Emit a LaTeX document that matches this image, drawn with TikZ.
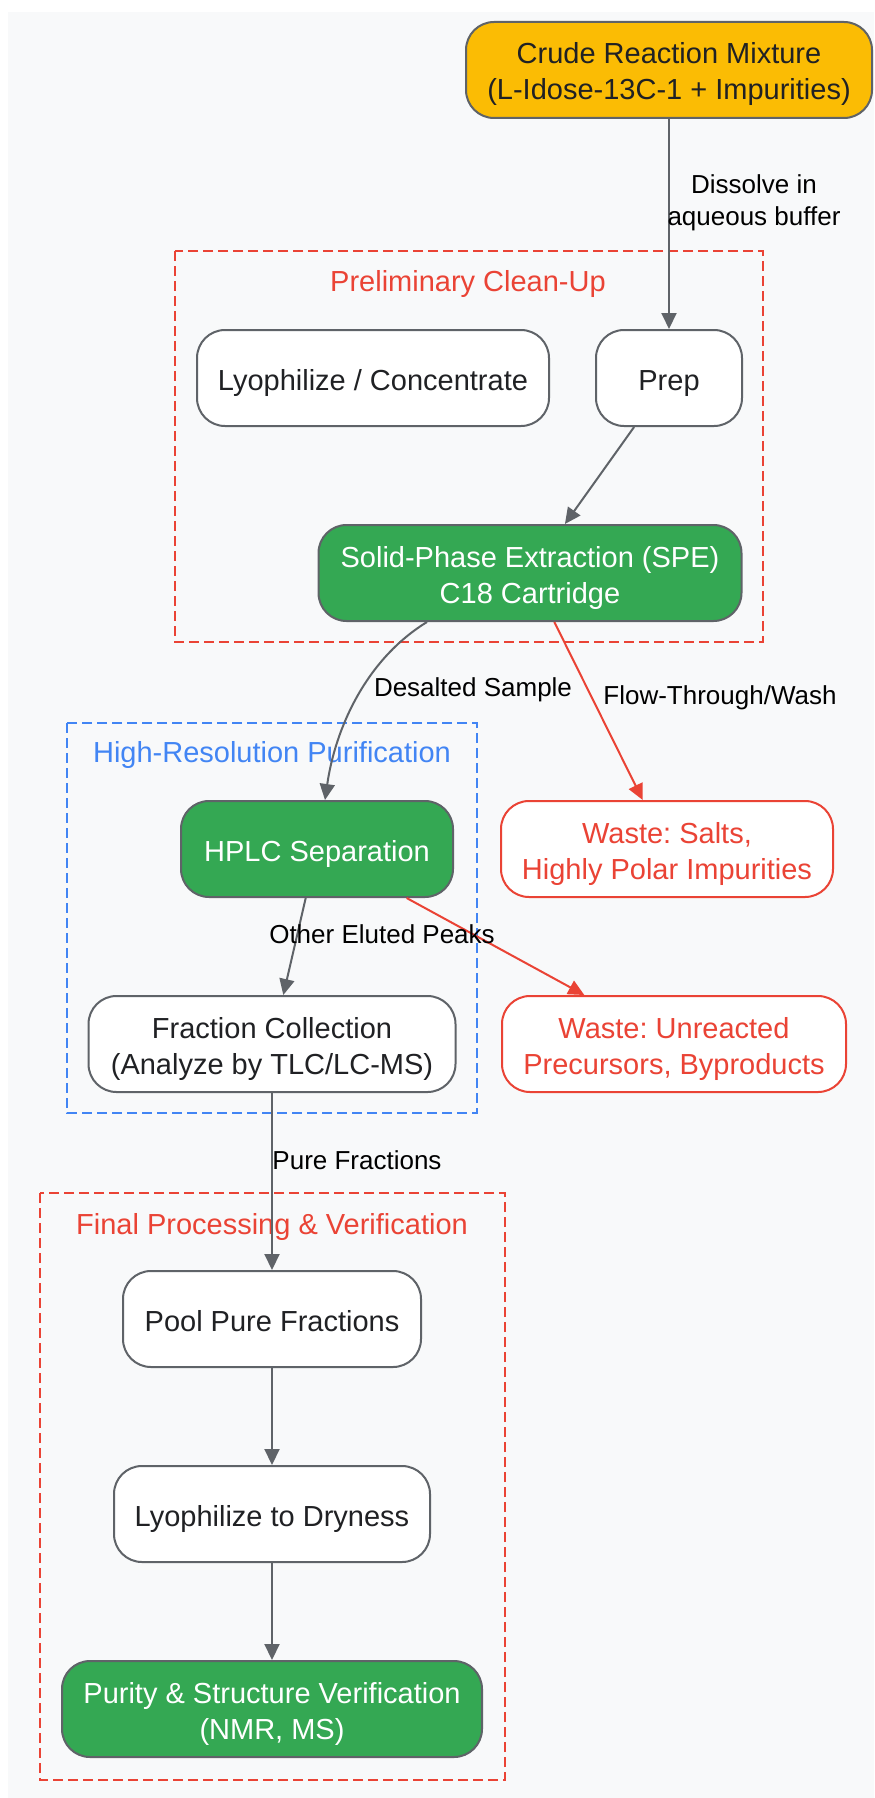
\documentclass[tikz,border=0pt]{standalone}
\usepackage{fontspec}
\setmainfont{Liberation Sans}
\frenchspacing
\usetikzlibrary{arrows.meta,calc}
\definecolor{bg}{HTML}{F8F9FA}
\definecolor{gborder}{HTML}{5F6368}
\definecolor{txt}{HTML}{202124}
\definecolor{gred}{HTML}{EA4335}
\definecolor{gblue}{HTML}{4285F4}
\definecolor{ggreen}{HTML}{34A853}
\definecolor{gyellow}{HTML}{FBBC04}
\newcommand{\topstr}{\rule{0pt}{16pt}}
\newcommand{\botstr}{\rule[-4pt]{0pt}{4pt}}
\begin{document}
\begin{tikzpicture}[x=0.5pt,y=-0.5pt,
  box/.style={draw=gborder, line width=1pt, rounded corners=14pt, fill=white, text=txt,
    align=center, inner sep=0pt, font=\fontsize{14.5}{18}\selectfont},
  sz/.style 2 args={minimum width=#1*0.5pt, minimum height=#2*0.5pt},
  greenbox/.style={box, fill=ggreen, text=white},
  yellowbox/.style={box, fill=gyellow},
  wastebox/.style={box, draw=gred, text=gred},
  cluster/.style={dashed, dash pattern=on 5pt off 2.5pt, line width=1pt},
  ctitle/.style={font=\fontsize{14.5}{18}\selectfont},
  arr/.style={draw=gborder, line width=1pt, -{Triangle[length=8pt,width=7.5pt]}},
  redarr/.style={draw=gred, line width=1pt, -{Triangle[length=8pt,width=7.5pt]}},
  elabel/.style={font=\fontsize{13}{16}\selectfont, text=black, align=center, inner sep=0pt}
]
\useasboundingbox (0,0) rectangle (874,1798);
\fill[bg] (8,12) rectangle (874,1798);

% clusters
\draw[cluster, draw=gred] (175,251) rectangle (763,642);
\node[ctitle, text=gred] (t1) at (468,284.5) {Preliminary Clean-Up};
\draw[cluster, draw=gblue] (67,723) rectangle (477,1113);
\node[ctitle, text=gblue] (t2) at (272,754.5) {High-Resolution Purification};
\draw[cluster, draw=gred] (40,1193) rectangle (505,1780);
\node[ctitle, text=gred] (t3) at (272,1226.5) {Final Processing \& Verification};

% nodes
\node[yellowbox, sz={406}{96}] (crude) at (669,70) {\topstr Crude Reaction Mixture\\(L-Idose-13C-1 + Impurities)\botstr};
\node[box, sz={352}{96}] (lyo1) at (373,378) {\topstr Lyophilize / Concentrate\botstr};
\node[box, sz={146}{96}] (prep) at (669,378) {\topstr Prep\botstr};
\node[greenbox, sz={423}{96}] (spe) at (530,573) {\topstr Solid-Phase Extraction (SPE)\\C18 Cartridge\botstr};
\node[greenbox, sz={272}{96}] (hplc) at (317,849) {\topstr HPLC Separation\botstr};
\node[box, sz={367}{96}] (frac) at (272,1044) {\topstr Fraction Collection\\(Analyze by TLC/LC-MS)\botstr};
\node[wastebox, sz={332}{96}] (wsalt) at (667,849) {\topstr Waste: Salts,\\Highly Polar Impurities\botstr};
\node[wastebox, sz={344}{96}] (wunre) at (674,1044) {\topstr Waste: Unreacted\\Precursors, Byproducts\botstr};
\node[box, sz={298}{96}] (pool) at (272,1319) {\topstr Pool Pure Fractions\botstr};
\node[box, sz={316}{96}] (lyo2) at (272,1514) {\topstr Lyophilize to Dryness\botstr};
\node[greenbox, sz={420}{96}] (purity) at (272,1709) {\topstr Purity \& Structure Verification\\(NMR, MS)\botstr};

% edges
\draw[arr] (crude) -- (prep);
\draw[arr] (prep) -- (spe);
\coordinate (speout) at ($(spe.south)+(-103,0)$);
\coordinate (hplcin) at ($(hplc.north)+(8,0)$);
\draw[arr] (speout) .. controls (365,660) and (335,730) .. (hplcin);
\draw[redarr] (spe) -- (wsalt);
\draw[arr] (hplc) -- (frac);
\draw[redarr] (hplc) -- (wunre);
\draw[arr] (frac) -- (pool);
\draw[arr] (pool) -- (lyo2);
\draw[arr] (lyo2) -- (purity);

% edge labels
\node[elabel] (l1) at (754,202.5) {Dissolve in\\aqueous buffer};
\node[elabel] (l2) at (473,689.5) {Desalted Sample};
\node[elabel] (l3) at (720,697.5) {Flow-Through/Wash};
\node[elabel] (l4) at (382,934.5) {Other Eluted Peaks};
\node[elabel] (l5) at (357,1160.5) {Pure Fractions};
\end{tikzpicture}
\end{document}
